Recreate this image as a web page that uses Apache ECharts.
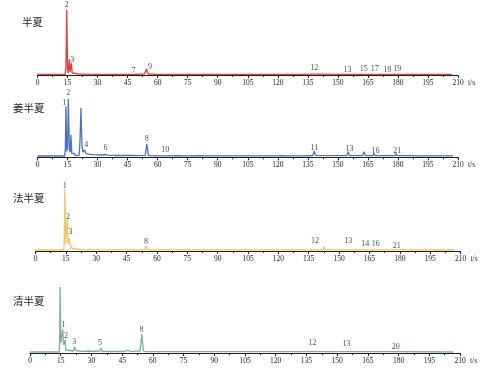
<!DOCTYPE html>
<html><head><meta charset="utf-8">
<script src="https://cdn.jsdelivr.net/npm/echarts@6/dist/echarts.min.js"></script>
<style>html,body{margin:0;padding:0;background:#fff}#c{width:499px;height:372px}</style>
</head><body><div id="c"></div>
<script>
// Panel names
const panelNames = ['半夏', '姜半夏', '法半夏', '清半夏'];
const xTicks = [0, 15, 30, 45, 60, 75, 90, 105, 120, 135, 150, 165, 180, 195, 210];
const xUnit = 't/s';

// Chromatogram traces [t, intensity]
const banxia = [[0,0.6],[13.8,0.6],[14.2,8],[14.6,65],[15.0,6],[15.4,2],[15.9,15.7],[16.3,3],[16.9,11.7],[17.3,2],[18,1],[20.7,0.8],[21.2,1.8],[21.8,0.8],[23.2,0.8],[23.7,1.4],[24.3,0.8],[28.2,0.7],[28.7,1.4],[29.3,0.7],[34.0,0.7],[34.6,1.8],[35.3,0.7],[47.2,0.7],[47.7,1.2],[48.3,0.7],[53.5,1],[54.4,6],[55.3,1],[56,0.7],[59.5,0.7],[60,1.3],[60.6,0.7],[73,0.7],[73.5,1.3],[74.2,0.7],[118.5,0.7],[119,1.2],[119.6,0.7],[132.5,0.7],[133,1.2],[133.6,0.7],[137.4,0.8],[138,2.8],[138.6,0.8],[154.5,0.7],[155,1.3],[155.6,0.7],[162.5,0.7],[163,1.3],[163.6,0.7],[167.5,0.7],[168,1.2],[168.6,0.7],[173.5,0.7],[174,1.1],[174.6,0.7],[178.5,0.7],[179,1.2],[179.6,0.7],[207,0.6]];
const jiangBanxia = [[0,1.3],[13.5,1.3],[13.9,8],[14.2,51],[14.6,6],[15.0,10],[15.4,58.3],[15.9,8],[16.3,5],[16.7,22.6],[17.1,4],[17.6,2],[18.3,4],[18.8,1.8],[20.8,2],[21.2,15],[21.7,49.3],[22.2,12],[22.7,5],[23.4,7.6],[24.2,4],[26,3],[28,2.6],[30,2.5],[32,2.3],[33.6,2.8],[34.2,4.3],[34.9,2.2],[40,1.8],[47.6,1.8],[48.2,2.8],[48.9,1.6],[53.8,2],[54.6,13.3],[55.4,2],[56.5,1.6],[59.4,1.5],[60,2.2],[60.6,1.5],[63.2,1.5],[63.8,2.6],[64.5,1.5],[71.5,1.6],[72,2.4],[72.6,1.5],[73.9,1.5],[74.5,2.6],[75.2,1.5],[81.5,1.6],[82.2,2.4],[83,1.5],[102.4,1.5],[103,2.2],[103.7,1.5],[116.3,1.5],[117,2.4],[117.8,1.5],[119.8,1.5],[120.5,2.6],[121.3,1.6],[124.8,1.5],[125.5,2.2],[126.3,1.5],[132,1.5],[132.7,2.4],[133.5,1.5],[137.5,1.8],[138.2,6],[138.9,2],[139.8,1.6],[154.5,1.7],[155.2,5.5],[155.9,1.6],[162.4,1.7],[163,5.5],[163.7,1.8],[167.5,1.7],[168,4],[168.6,1.8],[173.5,1.6],[174,3],[174.6,1.6],[178.5,1.6],[179,3.8],[179.6,1.6],[187,1.6],[187.5,2.2],[188.2,1.5],[207.5,1.5]];
const faBanxia = [[0,1],[14.0,1],[14.2,10],[14.5,61.7],[14.9,8],[15.3,6],[15.7,31],[16.1,7],[16.4,5],[16.7,12.7],[17.0,8],[17.3,10],[17.7,3],[18.5,1.5],[21,1.5],[21.5,2.8],[22,1.6],[23.5,1.3],[24,1.8],[24.5,1.2],[28.5,1.1],[29,1.5],[29.5,1.1],[33.5,1.1],[34,1.6],[34.5,1.1],[47.5,1.1],[48.1,2.2],[48.7,1.1],[53.9,1.2],[54.7,5.3],[55.5,1.2],[59.2,1.1],[59.7,1.7],[60.3,1.1],[73,1.1],[73.7,2.2],[74.4,1.1],[115.8,1.1],[116.3,1.7],[116.9,1.1],[132.5,1.1],[133,1.7],[133.6,1.1],[137.4,1.1],[138,3],[138.6,1.1],[142,1.1],[142.6,4.5],[143.2,1.1],[154.4,1.1],[155,2.6],[155.6,1.1],[162.2,1.1],[162.8,2.2],[163.4,1.1],[167.4,1.1],[168,2],[168.6,1.1],[173.5,1.1],[174,1.5],[174.5,1.1],[178.5,1.1],[179,1.6],[179.5,1.1],[207,1]];
const qingBanxia = [[0,1],[14.3,1],[14.5,15],[14.7,66],[15.1,10],[15.6,9],[16.0,23.7],[16.4,8],[16.8,7],[17.1,13],[17.5,3],[18.2,1.8],[21.2,2],[21.7,6.3],[22.3,2.5],[24,2],[26,1.6],[29,2],[30,1.5],[34,2],[34.6,4.7],[35.2,1.5],[46.5,1.5],[47.8,3],[49,1.4],[53.8,2],[54.6,18.7],[55.4,2],[56.5,1.4],[59.5,1.3],[60,1.8],[60.6,1.3],[62.5,1.3],[63,2.2],[63.6,1.3],[73.5,1.3],[74,1.8],[74.6,1.3],[108.5,1.3],[109,1.8],[109.6,1.3],[117.5,1.3],[118,1.6],[118.6,1.3],[132.5,1.3],[133,1.8],[133.6,1.3],[137.6,1.3],[138.2,3],[138.8,1.3],[154.4,1.3],[154.9,1.8],[155.5,1.3],[162.2,1.3],[162.7,2.5],[163.3,1.3],[167.2,1.3],[167.7,2],[168.3,1.3],[173.5,1.3],[174,1.6],[174.6,1.3],[178,1.3],[178.5,2],[179.1,1.3],[206.8,1]];

// Peak numbers [t, height above axis, label]
const banxiaPeaks = [[14.5,70,'2'],[17.3,15,'3'],[47.9,4.5,'7'],[56.2,8,'9'],[138.2,6.7,'12'],[154.8,5.5,'13'],[162.9,5.7,'15'],[168.4,5.7,'17'],[174.7,5,'18'],[179.6,5.7,'19']];
const jiangPeaks = [[13.3,54.3,'1'],[15.4,64.3,'2'],[24.3,12.3,'4'],[34,9.8,'6'],[54.6,18.3,'8'],[63.8,7.3,'10'],[138.3,9,'11'],[155.8,8,'13'],[168.8,6.6,'16'],[179.6,6.6,'21']];
const faPeaks = [[14.4,65,'1'],[16.1,34,'2'],[17.3,19,'3'],[54.6,9,'8'],[138.1,10,'12'],[154.5,10.3,'13'],[162.9,6.7,'14'],[168.1,6.7,'16'],[178.5,5.3,'21']];
const qingPeaks = [[16.4,28,'1'],[17.6,17,'2'],[21.6,11.5,'3'],[34.2,10,'5'],[54.5,23,'8'],[138,10.3,'12'],[154.6,8.7,'13'],[178.6,6.3,'20']];

const traces = [banxia, jiangBanxia, faBanxia, qingBanxia];
const peaks = [banxiaPeaks, jiangPeaks, faPeaks, qingPeaks];
const colors = ['#e63b36', '#4f71c1', '#f7c25f', '#7faf9c'];
const grids = [
  {left: 37.5, top: 0, width: 420.5, height: 75},
  {left: 37.5, top: 82.3, width: 420.5, height: 75},
  {left: 35.5, top: 176, width: 425, height: 75},
  {left: 30, top: 278, width: 430, height: 75}
];
const titleTops = [12, 98, 188, 291];
const serif = '"Liberation Serif","Times New Roman",serif';

const option = {
  animation: false,
  backgroundColor: '#fff',
  title: panelNames.map((n, i) => ({
    text: n, left: i === 0 ? 17 : 8, top: titleTops[i],
    textStyle: {fontSize: 10.5, fontWeight: 'normal', color: '#222', fontFamily: '"Noto Sans CJK SC"'}
  })),
  grid: grids,
  xAxis: grids.map((g, i) => ({
    type: 'value', gridIndex: i, min: 0, max: 210, interval: 15,
    name: xUnit, nameLocation: 'end', nameGap: 10,
    nameTextStyle: {fontSize: 7.5, color: '#222', fontFamily: serif, verticalAlign: 'top', padding: [4, 0, 0, 0]},
    axisLine: {show: true, lineStyle: {color: '#222', width: 1}},
    axisTick: {show: true, length: 3, lineStyle: {color: '#222'}},
    minorTick: {show: true, splitNumber: 2, length: 2, lineStyle: {color: '#222'}},
    splitLine: {show: false},
    axisLabel: {fontSize: 7.5, color: '#222', fontFamily: serif, margin: 4,
      formatter: v => xTicks.includes(v) ? String(v) : ''}
  })),
  yAxis: grids.map((g, i) => ({
    type: 'value', gridIndex: i, min: 0, max: 75, show: false,
    axisLine: {show: false}, splitLine: {show: false}
  })),
  series: []
};
traces.forEach((d, i) => {
  option.series.push({
    type: 'line', xAxisIndex: i, yAxisIndex: i, data: d, showSymbol: false, symbol: 'none',
    lineStyle: {color: colors[i], width: 1.3}, z: 3
  });
  option.series.push({
    type: 'scatter', xAxisIndex: i, yAxisIndex: i, symbolSize: 0,
    data: peaks[i].map(p => ({value: [p[0], p[1]], name: p[2]})),
    label: {show: true, position: 'inside', formatter: p => p.name, fontSize: 8, color: '#222', fontFamily: serif},
    z: 4
  });
});
echarts.init(document.getElementById('c'), null, {renderer: 'canvas'}).setOption(option);
</script></body></html>
